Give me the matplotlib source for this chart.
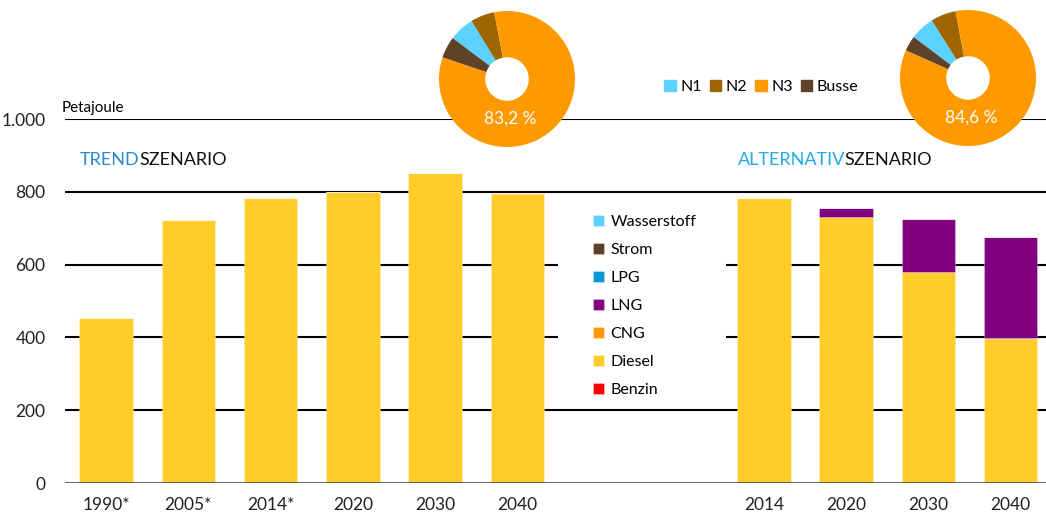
import matplotlib.pyplot as plt
import numpy as np
from matplotlib.patches import Patch, Rectangle

plt.rcParams['font.family'] = ['Lato', 'DejaVu Sans']

# bar chart data
categories = ['1990*', '2005*', '2014*', '2020', '2030', '2040',
              '2014', '2020', '2030', '2040']
positions = [0, 1, 2, 3, 4, 5, 8, 9, 10, 11]
fuels = ['Benzin', 'Diesel', 'CNG', 'LNG', 'LPG', 'Strom', 'Wasserstoff']
fuel_colors = ['#ff0000', '#ffcc29', '#ff9900', '#800080', '#0099d4', '#5e4126', '#5bd2ff']
benzin = [0, 0, 0, 0, 0, 0, 0, 0, 0, 0]
diesel = [453, 722, 783, 799, 853, 794, 783, 731, 580, 396]
cng = [0, 0, 0, 0, 0, 4, 0, 0, 1, 3]
lng = [0, 0, 0, 0, 0, 0, 0, 24, 144, 277]
lpg = [0, 0, 0, 0, 0, 0, 0, 0, 0, 0]
strom = [0, 0, 0, 0, 0, 0, 0, 0, 0, 0]
wasserstoff = [0, 0, 0, 0, 0, 0, 0, 0, 0, 0]
series = [benzin, diesel, cng, lng, lpg, strom, wasserstoff]

# donut data (share of vehicle classes)
pie_labels = ['N1', 'N2', 'N3', 'Busse']
pie_colors = ['#5bd2ff', '#9c6500', '#ff9900', '#5e4126']
pie_trend = [6.0, 5.7, 83.2, 5.1]
pie_alt = [5.8, 6.0, 84.6, 3.6]

fig = plt.figure(figsize=(10.46, 5.12), dpi=100)
ax = fig.add_axes([65 / 1046, 29 / 512, 1 - 65 / 1046, 364 / 512])

bottom = np.zeros(len(positions))
for vals, name, col in zip(series, fuels, fuel_colors):
    ax.bar(positions, vals, 0.65, bottom=bottom, color=col,
           edgecolor=(1, 1, 1, 0.35), linewidth=0.6, label=name, zorder=3)
    bottom += np.array(vals)

ax.set_xlim(-0.5, 11.43)
ax.set_ylim(0, 1000)
ax.set_yticks([0, 200, 400, 600, 800, 1000])
ax.set_yticklabels(['0', '200', '400', '600', '800', '1.000'])
for y in [200, 400, 600, 800, 1000]:
    ax.axhline(y, color='black', lw=1.5, zorder=1)
ax.axhline(0, color='#555555', lw=2, zorder=4)
ax.set_xticks(positions)
ax.set_xticklabels(categories)
ax.tick_params(axis='both', length=0, labelsize=12.5, colors='#222222')
ax.tick_params(axis='y', pad=14)
ax.tick_params(axis='x', pad=10)
for s in ax.spines.values():
    s.set_visible(False)
ax.patch.set_alpha(0)

ax.text(-0.54, 1012, 'Petajoule', fontsize=11, ha='left', va='bottom')

# scenario titles, two colours side by side
fig.canvas.draw()
renderer = fig.canvas.get_renderer()

def scenario_title(x, word, col):
    t = ax.text(x, 888, word, color=col, fontsize=13, va='center', ha='left')
    bb = t.get_window_extent(renderer)
    x2 = ax.transData.inverted().transform((bb.x1, 0))[0]
    ax.text(x2, 888, 'SZENARIO', color='#111111', fontsize=13, va='center', ha='left')

scenario_title(-0.32, 'TREND', '#2a8acb')
scenario_title(7.68, 'ALTERNATIV', '#22aae6')

# white box behind the legend hides the gridlines there
ax.add_patch(Rectangle((5.5, 240), 2.04, 530, facecolor='white', edgecolor='none', zorder=2))

h, l = ax.get_legend_handles_labels()
leg = ax.legend(h[::-1], l[::-1], loc='upper left', bbox_to_anchor=(0.52, 0.785),
                frameon=False, fontsize=11.5, handlelength=0.7, handleheight=0.7,
                handletextpad=0.4, labelspacing=0.87, borderpad=0.6)

# donuts
def donut(cx, cy, vals, label):
    r = 68
    pax = fig.add_axes([(cx - r) / 1046, 1 - (cy + r) / 512, 2 * r / 1046, 2 * r / 512])
    pax.pie(vals, colors=pie_colors, startangle=143, counterclock=False,
            wedgeprops=dict(width=0.68, edgecolor='none'), radius=1)
    pax.set_xlim(-1, 1)
    pax.set_ylim(-1, 1)
    pax.set_aspect('equal')
    pax.text(0.05, -0.58, label, color='white', fontsize=12.5, ha='center', va='center')
    return pax

donut(507, 79, pie_trend, '83,2 %')
donut(968, 78, pie_alt, '84,6 %')

ph = [Patch(color=c) for c in pie_colors]
fig.legend(ph, pie_labels, loc='center left', bbox_to_anchor=(650 / 1046, 1 - 87 / 512),
           ncol=4, frameon=False, fontsize=11.5, handlelength=0.7, handleheight=0.7,
           handletextpad=0.3, columnspacing=0.5)

fig.savefig('out.png', dpi=100)
